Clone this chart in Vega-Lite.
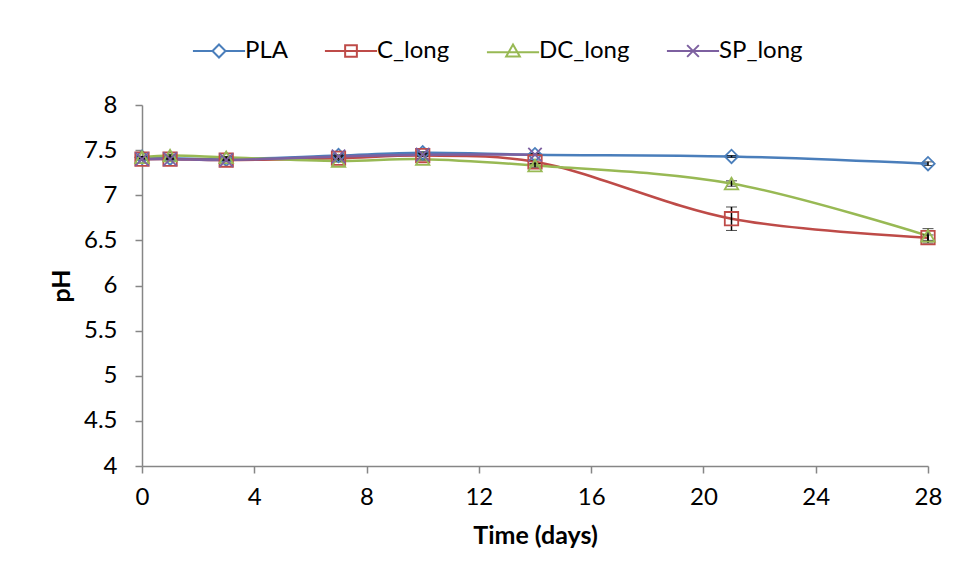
{
  "$schema": "https://vega.github.io/schema/vega-lite/v6.json",
  "width": 786,
  "height": 361,
  "autosize": {"type": "none"},
  "padding": {"left": 142, "top": 105, "right": 30, "bottom": 115},
  "background": "white",
  "config": {
    "view": {"stroke": null},
    "font": "Lato",
    "axis": {
      "domainColor": "#868686",
      "tickColor": "#868686",
      "domainWidth": 1.5,
      "tickWidth": 1.5,
      "tickSize": 7,
      "grid": false,
      "labelFont": "Lato",
      "labelFontSize": 24,
      "labelColor": "#000000",
      "labelFlush": false,
      "titleFont": "Lato",
      "titleFontSize": 25,
      "titleFontWeight": "bold",
      "titleColor": "#000000"
    },
    "legend": {
      "labelFont": "Lato",
      "labelFontSize": 24,
      "labelColor": "#000000"
    }
  },
  "data": {
    "values": [
      {"series": "PLA", "time": 0, "pH": 7.42, "err": 0.01},
      {"series": "PLA", "time": 1, "pH": 7.41, "err": 0.01},
      {"series": "PLA", "time": 3, "pH": 7.40, "err": 0.01},
      {"series": "PLA", "time": 7, "pH": 7.44, "err": 0.01},
      {"series": "PLA", "time": 10, "pH": 7.47, "err": 0.01},
      {"series": "PLA", "time": 14, "pH": 7.45, "err": 0.01},
      {"series": "PLA", "time": 21, "pH": 7.43, "err": 0.01},
      {"series": "PLA", "time": 28, "pH": 7.35, "err": 0.02},
      {"series": "C_long", "time": 0, "pH": 7.40, "err": 0.01},
      {"series": "C_long", "time": 1, "pH": 7.40, "err": 0.01},
      {"series": "C_long", "time": 3, "pH": 7.39, "err": 0.01},
      {"series": "C_long", "time": 7, "pH": 7.41, "err": 0.01},
      {"series": "C_long", "time": 10, "pH": 7.44, "err": 0.01},
      {"series": "C_long", "time": 14, "pH": 7.37, "err": 0.02},
      {"series": "C_long", "time": 21, "pH": 6.74, "err": 0.13},
      {"series": "C_long", "time": 28, "pH": 6.53, "err": 0.03},
      {"series": "DC_long", "time": 0, "pH": 7.42, "err": 0.01},
      {"series": "DC_long", "time": 1, "pH": 7.44, "err": 0.01},
      {"series": "DC_long", "time": 3, "pH": 7.42, "err": 0.01},
      {"series": "DC_long", "time": 7, "pH": 7.38, "err": 0.01},
      {"series": "DC_long", "time": 10, "pH": 7.40, "err": 0.01},
      {"series": "DC_long", "time": 14, "pH": 7.33, "err": 0.02},
      {"series": "DC_long", "time": 21, "pH": 7.13, "err": 0.03},
      {"series": "DC_long", "time": 28, "pH": 6.55, "err": 0.08},
      {"series": "SP_long", "time": 0, "pH": 7.40, "err": 0.01},
      {"series": "SP_long", "time": 1, "pH": 7.40, "err": 0.01},
      {"series": "SP_long", "time": 3, "pH": 7.39, "err": 0.01},
      {"series": "SP_long", "time": 7, "pH": 7.43, "err": 0.01},
      {"series": "SP_long", "time": 10, "pH": 7.45, "err": 0.01},
      {"series": "SP_long", "time": 14, "pH": 7.45, "err": 0.01}
    ]
  },
  "encoding": {
    "x": {
      "field": "time",
      "type": "quantitative",
      "title": "Time (days)",
      "scale": {"domain": [0, 28], "nice": false, "zero": false},
      "axis": {"values": [0, 4, 8, 12, 16, 20, 24, 28], "labelPadding": 12, "titlePadding": 14}
    },
    "y": {
      "field": "pH",
      "type": "quantitative",
      "title": "pH",
      "scale": {"domain": [4, 8], "nice": false, "zero": false},
      "axis": {"values": [4, 4.5, 5, 5.5, 6, 6.5, 7, 7.5, 8], "format": "~g", "labelPadding": 18, "titlePadding": 9}
    }
  },
  "resolve": {
    "scale": {"color": "independent", "shape": "independent"},
    "legend": {"color": "independent", "shape": "independent"}
  },
  "layer": [
    {
      "mark": {"type": "line", "interpolate": "catmull-rom", "strokeWidth": 2.5},
      "encoding": {
        "color": {
          "field": "series",
          "type": "nominal",
          "scale": {"domain": ["PLA", "C_long", "DC_long", "SP_long"], "range": ["#4A7EBB", "#BE4B48", "#98B954", "#7D60A0"]},
          "legend": {
            "orient": "none",
            "direction": "horizontal",
            "legendX": 65,
            "legendY": -66,
            "title": null,
            "columnPadding": 32,
            "labelOffset": 14,
            "symbolSize": 170,
            "symbolStrokeWidth": 2,
            "encode": {
              "symbols": {
                "update": {
                  "shape": {"signal": "datum.value === 'PLA' ? 'M-4,0L-1,0M1,0L4,0M0,-1L1,0L0,1L-1,0Z' : datum.value === 'C_long' ? 'M-4,0L4,0M-0.9,-0.9L0.9,-0.9L0.9,0.9L-0.9,0.9Z' : datum.value === 'DC_long' ? 'M-4,0.2L4,0.2M0,-1L1.05,0.85L-1.05,0.85Z' : 'M-4,0L4,0M-0.9,-0.9L0.9,0.9M0.9,-0.9L-0.9,0.9'"},
                  "fill": {"value": "transparent"}
                }
              }
            }
          }
        }
      }
    },
    {
      "mark": {"type": "errorbar", "ticks": {"size": 11, "color": "#000000", "strokeWidth": 1.5}, "rule": {"color": "#000000", "strokeWidth": 1.5}},
      "encoding": {
        "y": {"field": "pH", "type": "quantitative"},
        "yError": {"field": "err"}
      }
    },
    {
      "mark": {"type": "point", "filled": false, "size": 180, "strokeWidth": 1.8, "opacity": 1},
      "encoding": {
        "color": {
          "field": "series",
          "type": "nominal",
          "scale": {"domain": ["PLA", "C_long", "DC_long", "SP_long"], "range": ["#4A7EBB", "#BE4B48", "#98B954", "#7D60A0"]},
          "legend": null
        },
        "shape": {
          "field": "series",
          "type": "nominal",
          "scale": {"domain": ["PLA", "C_long", "DC_long", "SP_long"], "range": ["diamond", "square", "triangle-up", "M-1,-1L1,1M1,-1L-1,1"]},
          "legend": null
        }
      }
    }
  ]
}
